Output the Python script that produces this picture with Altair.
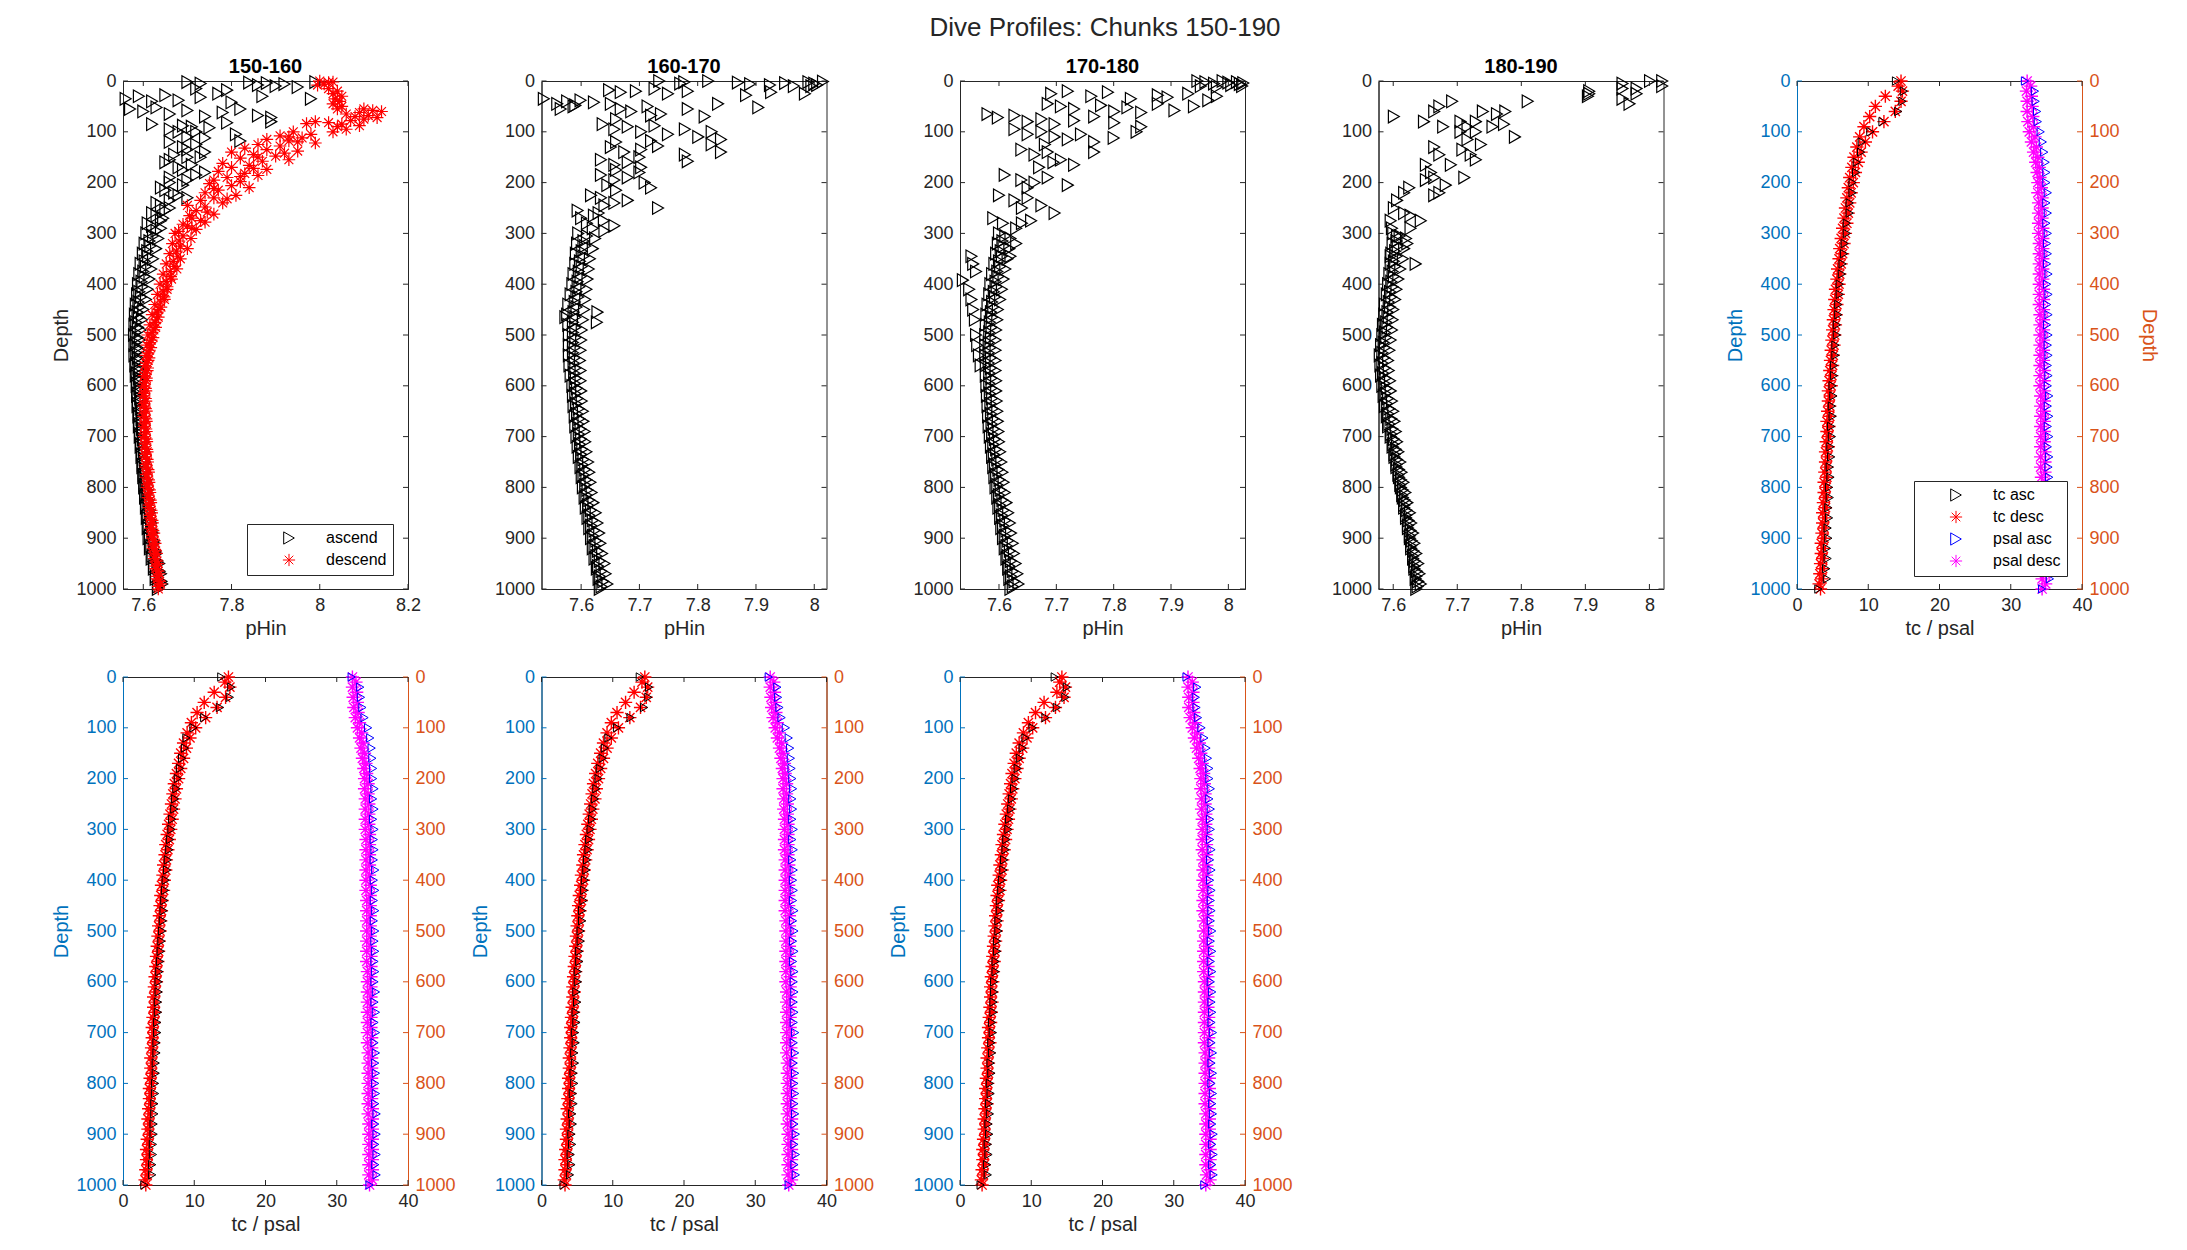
"""Dive profiles for chunks 150-190: pHin scatter per chunk and tc / psal profiles."""

import altair as alt
import pandas as pd

FONT = 'Liberation Sans'
AX = '#262626'
LEFT_AX = '#0072BD'
RIGHT_AX = '#D95319'
W, H = 285, 508
TICK = 5
ASTERISK = 'M0,-1L0,1M-1,0L1,0M-0.7,-0.7L0.7,0.7M-0.7,0.7L0.7,-0.7'

DEPTH_TICKS = [0, 100, 200, 300, 400, 500, 600, 700, 800, 900, 1000]
TC_TICKS = [0, 10, 20, 30, 40]
PH_TICKS_WIDE = [7.6, 7.8, 8.0, 8.2]
PH_TICKS = [7.6, 7.7, 7.8, 7.9, 8.0]

PH_SERIES = ['ascend', 'descend']
TC_SERIES = ['tc asc', 'tc desc', 'psal asc', 'psal desc']

# depth grids of the dense part of the pHin profiles (300-1000 m)
DEEP_DEPTH = [300, 310, 320, 330, 340, 350, 360, 370, 380, 390,
              400, 410, 420, 430, 440, 450, 460, 470, 480, 490,
              500, 510, 520, 530, 540, 550, 560, 570, 580, 590,
              600, 610, 620, 630, 640, 650, 660, 670, 680, 690,
              700, 710, 720, 730, 740, 750, 760, 770, 780, 790,
              800, 810, 820, 830, 840, 850, 860, 870, 880, 890,
              900, 910, 920, 930, 940, 950, 960, 970, 980, 990, 1000]
DEEP_DEPTH_B = [305, 315, 325, 335, 345, 355, 365, 375, 385, 395,
                405, 415, 425, 435, 445, 455, 465, 475, 485, 495,
                505, 515, 525, 535, 545, 555, 565, 575, 585, 595,
                605, 615, 625, 635, 645, 655, 665, 675, 685, 695,
                705, 715, 725, 735, 745, 755, 765, 775, 785, 795,
                805, 815, 825, 835, 845, 855, 865, 875, 885, 895,
                905, 915, 925, 935, 945, 955, 965, 975, 985, 995]

# ---- chunk 150-160 (pHin) ----
P1_ASC_DEPTH = [2, 5, 3, 8, 4, 10, 6, 12, 2, 15, 18,
                35, 30, 40, 28, 38, 32, 25, 42, 30, 35,
                55, 60, 52, 65, 58, 70, 62, 55, 68, 72,
                85, 95, 88, 100, 92, 82, 105, 80,
                120, 130, 125, 140, 118, 145,
                160, 170, 165, 180, 190, 195, 185,
                210, 220, 230, 240, 250,
                260, 270, 280, 290,
                150, 155, 175, 200, 205, 215, 225, 235, 245, 255,
                265, 275, 285, 295, 110, 135, 150, 100, 112, 90]
P1_ASC_PH = [7.70, 7.73, 7.84, 7.86, 7.88, 7.90, 7.92, 7.95, 7.99, 7.72, 7.79,
             7.56, 7.59, 7.62, 7.65, 7.68, 7.73, 7.77, 7.80, 7.87, 7.98,
             7.57, 7.60, 7.63, 7.66, 7.70, 7.74, 7.78, 7.82, 7.86, 7.89,
             7.62, 7.66, 7.69, 7.72, 7.75, 7.79, 7.81, 7.89,
             7.66, 7.69, 7.72, 7.74, 7.82, 7.67,
             7.65, 7.68, 7.71, 7.74, 7.66, 7.70, 7.72,
             7.64, 7.67, 7.70, 7.63, 7.66,
             7.62, 7.645, 7.61, 7.64,
             7.70, 7.66, 7.69, 7.66, 7.69, 7.65, 7.68, 7.66, 7.64, 7.65,
             7.63, 7.64, 7.62, 7.63, 7.70, 7.70, 7.73, 7.68, 7.74, 7.71]
P1_DEEP_ASC = [7.607, 7.634, 7.603, 7.629, 7.599, 7.622, 7.594, 7.618, 7.591, 7.614,
               7.588, 7.610, 7.586, 7.606, 7.583, 7.600, 7.581, 7.597, 7.580, 7.594,
               7.579, 7.592, 7.580, 7.592, 7.580, 7.592, 7.582, 7.592, 7.583, 7.593,
               7.585, 7.594, 7.586, 7.595, 7.587, 7.597, 7.589, 7.598, 7.590, 7.599,
               7.592, 7.601, 7.594, 7.602, 7.596, 7.604, 7.598, 7.605, 7.600, 7.607,
               7.602, 7.609, 7.604, 7.612, 7.606, 7.615, 7.608, 7.618, 7.610, 7.621,
               7.612, 7.625, 7.615, 7.630, 7.619, 7.636, 7.624, 7.640, 7.628, 7.643, 7.633]
P1_DEEP_ASC_B = [7.622, 7.614, 7.616, 7.609, 7.611, 7.603, 7.606, 7.600, 7.603, 7.596,
                 7.598, 7.591, 7.595, 7.589, 7.592, 7.587, 7.590, 7.584, 7.588, 7.583,
                 7.587, 7.583, 7.587, 7.584, 7.588, 7.584, 7.589, 7.585, 7.590, 7.586,
                 7.591, 7.587, 7.593, 7.588, 7.594, 7.590, 7.596, 7.591, 7.597, 7.593,
                 7.599, 7.595, 7.601, 7.597, 7.603, 7.599, 7.605, 7.601, 7.607, 7.603,
                 7.610, 7.605, 7.612, 7.607, 7.615, 7.610, 7.618, 7.612, 7.621, 7.615,
                 7.624, 7.618, 7.628, 7.621, 7.632, 7.625, 7.637, 7.629, 7.641, 7.634]
P1_DESC_DEPTH = [0, 3, 6, 2, 8,
                 15, 20, 25, 30, 35, 40, 45,
                 50, 55, 55, 58, 60, 62, 65, 68, 70, 72, 75, 78,
                 82, 85, 88, 90, 95, 100, 80, 84,
                 100, 105, 108, 112, 115, 118, 122, 125, 128,
                 132, 135, 138, 140, 145, 148, 152, 155, 158,
                 162, 166, 170, 174, 178, 182, 186, 190, 195, 198,
                 202, 206, 210, 215, 220, 225, 230, 235, 240,
                 248, 255, 262, 270, 278, 285, 292,
                 245, 258, 265, 275, 282, 290, 296, 232, 212, 188, 172, 150, 142, 120, 110]
P1_DESC_PH = [8.00, 8.02, 8.01, 8.03, 7.995,
              8.02, 8.04, 8.03, 8.05, 8.035, 8.045, 8.03,
              8.05, 8.04, 8.10, 8.12, 8.14, 8.09, 8.06, 8.11, 8.08, 8.13, 8.10, 8.07,
              8.02, 8.05, 8.09, 8.04, 8.06, 8.03, 7.99, 7.97,
              7.94, 7.98, 7.91, 7.96, 7.88, 7.93, 7.99, 7.86, 7.91,
              7.83, 7.88, 7.95, 7.80, 7.85, 7.90, 7.82, 7.93, 7.87,
              7.78, 7.84, 7.80, 7.88, 7.77, 7.83, 7.86, 7.79, 7.76, 7.82,
              7.75, 7.80, 7.84, 7.77, 7.74, 7.81, 7.76, 7.73, 7.78,
              7.74, 7.72, 7.76, 7.71, 7.74, 7.70, 7.72,
              7.70, 7.745, 7.705, 7.73, 7.69, 7.71, 7.68, 7.79, 7.76, 7.82, 7.85, 7.86, 7.92, 7.95, 7.93]
P1_DEEP_DESC = [7.672, 7.708, 7.666, 7.700, 7.660, 7.684, 7.652, 7.676, 7.645, 7.664,
                7.638, 7.654, 7.632, 7.648, 7.626, 7.635, 7.620, 7.630, 7.615, 7.624,
                7.610, 7.618, 7.608, 7.614, 7.606, 7.611, 7.603, 7.609, 7.602, 7.607,
                7.601, 7.606, 7.601, 7.606, 7.601, 7.607, 7.601, 7.607, 7.602, 7.607,
                7.602, 7.608, 7.603, 7.609, 7.605, 7.610, 7.606, 7.612, 7.607, 7.613,
                7.609, 7.615, 7.611, 7.617, 7.613, 7.619, 7.615, 7.621, 7.617, 7.624,
                7.620, 7.627, 7.622, 7.630, 7.625, 7.633, 7.628, 7.636, 7.631, 7.639, 7.634]
P1_DEEP_DESC_B = [7.690, 7.681, 7.684, 7.675, 7.678, 7.668, 7.670, 7.661, 7.662, 7.652,
                  7.654, 7.645, 7.647, 7.639, 7.640, 7.632, 7.634, 7.627, 7.628, 7.620,
                  7.622, 7.615, 7.617, 7.611, 7.613, 7.607, 7.610, 7.605, 7.607, 7.603,
                  7.605, 7.602, 7.605, 7.602, 7.605, 7.602, 7.606, 7.603, 7.606, 7.603,
                  7.607, 7.604, 7.608, 7.605, 7.609, 7.606, 7.611, 7.607, 7.612, 7.609,
                  7.614, 7.611, 7.616, 7.613, 7.618, 7.615, 7.620, 7.617, 7.622, 7.620,
                  7.625, 7.622, 7.628, 7.625, 7.631, 7.628, 7.634, 7.631, 7.637, 7.634]

# ---- chunk 160-170 (pHin) ----
P2_ASC_DEPTH = [0, 2, 5, 0, 3, 6, 8, 4, 10, 2, 5, 8, 1, 10,
                18, 22, 20, 15, 25, 20, 28, 22, 25,
                35, 45, 40, 50, 38, 42, 55, 48,
                45, 55, 60, 50, 65, 55, 70, 45, 52, 75, 68,
                85, 95, 90, 100, 88, 105, 95, 110, 100, 115, 120, 118,
                130, 140, 135, 128, 145, 125, 140,
                155, 165, 160, 170, 158, 175,
                185, 195, 190, 200, 210, 205,
                225, 230, 240, 235, 250, 245,
                255, 265, 275, 285, 270, 290,
                455, 475, 465, 150, 180, 215, 260, 280, 295]
P2_ASC_PH = [7.734, 7.777, 7.77, 7.818, 7.869, 7.89, 7.924, 7.95, 7.965, 7.99, 8.0, 8.005, 8.015, 7.995,
             7.648, 7.668, 7.694, 7.726, 7.749, 7.783, 7.883, 7.926, 7.984,
             7.536, 7.559, 7.576, 7.587, 7.599, 7.622, 7.565, 7.59,
             7.651, 7.668, 7.686, 7.714, 7.737, 7.783, 7.812, 7.835, 7.904, 7.66, 7.72,
             7.637, 7.657, 7.68, 7.703, 7.726, 7.749, 7.778, 7.801, 7.824, 7.84, 7.66, 7.72,
             7.651, 7.674, 7.703, 7.732, 7.778, 7.824, 7.84,
             7.634, 7.657, 7.68, 7.703, 7.783, 7.66,
             7.634, 7.657, 7.68, 7.709, 7.72, 7.645,
             7.617, 7.634, 7.657, 7.68, 7.732, 7.64,
             7.594, 7.622, 7.639, 7.657, 7.6, 7.62,
             7.628, 7.627, 7.573, 7.70, 7.70, 7.66, 7.63, 7.61, 7.64]
P2_DEEP_ASC = [7.595, 7.624, 7.593, 7.620, 7.591, 7.615, 7.590, 7.613, 7.587, 7.611,
               7.585, 7.609, 7.582, 7.607, 7.578, 7.605, 7.576, 7.603, 7.578, 7.601,
               7.579, 7.600, 7.579, 7.599, 7.579, 7.598, 7.580, 7.599, 7.582, 7.599,
               7.585, 7.600, 7.586, 7.601, 7.587, 7.603, 7.589, 7.604, 7.590, 7.606,
               7.592, 7.607, 7.594, 7.609, 7.596, 7.612, 7.599, 7.614, 7.601, 7.616,
               7.603, 7.618, 7.606, 7.621, 7.608, 7.625, 7.611, 7.628, 7.614, 7.631,
               7.617, 7.633, 7.620, 7.636, 7.623, 7.640, 7.627, 7.642, 7.630, 7.645, 7.632]
P2_DEEP_ASC_B = [7.610, 7.604, 7.607, 7.601, 7.604, 7.598, 7.601, 7.596, 7.599, 7.594,
                 7.597, 7.592, 7.595, 7.589, 7.592, 7.587, 7.590, 7.586, 7.590, 7.586,
                 7.590, 7.586, 7.589, 7.586, 7.589, 7.587, 7.590, 7.588, 7.591, 7.589,
                 7.593, 7.590, 7.594, 7.591, 7.596, 7.593, 7.597, 7.595, 7.599, 7.596,
                 7.600, 7.598, 7.602, 7.600, 7.604, 7.602, 7.607, 7.604, 7.609, 7.607,
                 7.611, 7.609, 7.614, 7.612, 7.617, 7.614, 7.620, 7.617, 7.623, 7.620,
                 7.626, 7.623, 7.629, 7.626, 7.632, 7.629, 7.635, 7.632, 7.638, 7.635]

# ---- chunk 170-180 (pHin) ----
P3_ASC_DEPTH = [0, 2, 5, 0, 3, 8, 2, 6, 10, 4, 12, 10,
                25, 20, 30, 22, 35, 28, 32, 25, 38, 30,
                45, 50, 55, 48, 60, 52, 62, 45, 58, 50,
                65, 72, 68, 80, 75, 85, 78, 70, 82, 90,
                95, 105, 100, 110, 115, 105, 120, 112, 100, 125,
                135, 145, 140, 155, 165, 140, 170, 160,
                185, 195, 200, 190, 210, 205,
                225, 235, 230, 245, 260, 250,
                270, 280, 290, 275,
                345, 360, 375, 392, 410, 430, 450, 470, 500, 520, 540, 560,
                320, 345, 280]
P3_ASC_PH = [7.946, 7.96, 7.975, 7.99, 8.0, 8.005, 8.015, 8.02, 8.024, 8.026, 7.98, 7.952,
             7.691, 7.72, 7.761, 7.79, 7.83, 7.877, 7.894, 7.93, 7.965, 7.98,
             7.685, 7.708, 7.731, 7.778, 7.801, 7.824, 7.848, 7.877, 7.906, 7.94,
             7.58, 7.598, 7.627, 7.65, 7.674, 7.697, 7.731, 7.766, 7.801, 7.848,
             7.627, 7.65, 7.674, 7.697, 7.72, 7.743, 7.766, 7.80, 7.84, 7.68,
             7.639, 7.662, 7.685, 7.708, 7.731, 7.766, 7.67, 7.695,
             7.61, 7.639, 7.662, 7.685, 7.65, 7.72,
             7.60, 7.627, 7.65, 7.674, 7.697, 7.64,
             7.59, 7.607, 7.63, 7.656,
             7.552, 7.555, 7.56, 7.537, 7.548, 7.552, 7.555, 7.558, 7.56, 7.562, 7.565, 7.568,
             7.63, 7.62, 7.64]
P3_DEEP_ASC = [7.600, 7.620, 7.598, 7.618, 7.595, 7.615, 7.592, 7.611, 7.588, 7.608,
               7.585, 7.605, 7.583, 7.602, 7.580, 7.598, 7.578, 7.597, 7.577, 7.595,
               7.576, 7.594, 7.576, 7.594, 7.576, 7.594, 7.577, 7.594, 7.577, 7.595,
               7.578, 7.595, 7.579, 7.596, 7.580, 7.597, 7.581, 7.598, 7.582, 7.599,
               7.584, 7.600, 7.586, 7.602, 7.588, 7.604, 7.590, 7.606, 7.592, 7.608,
               7.594, 7.610, 7.597, 7.613, 7.599, 7.616, 7.602, 7.619, 7.604, 7.621,
               7.607, 7.624, 7.610, 7.626, 7.613, 7.629, 7.616, 7.632, 7.618, 7.634, 7.620]
P3_DEEP_ASC_B = [7.611, 7.606, 7.608, 7.603, 7.605, 7.600, 7.602, 7.597, 7.599, 7.594,
                 7.596, 7.591, 7.593, 7.588, 7.590, 7.586, 7.588, 7.584, 7.587, 7.583,
                 7.586, 7.582, 7.585, 7.582, 7.586, 7.582, 7.586, 7.583, 7.587, 7.583,
                 7.587, 7.584, 7.588, 7.585, 7.589, 7.586, 7.590, 7.587, 7.591, 7.588,
                 7.593, 7.590, 7.595, 7.591, 7.597, 7.593, 7.599, 7.595, 7.601, 7.597,
                 7.603, 7.600, 7.606, 7.602, 7.608, 7.605, 7.611, 7.607, 7.613, 7.610,
                 7.616, 7.613, 7.619, 7.615, 7.621, 7.618, 7.624, 7.621, 7.627, 7.624]

# ---- chunk 180-190 (pHin) ----
P4_ASC_DEPTH = [0, 0, 10, 5, 15, 15, 35, 25, 45, 20,
                25, 30, 40, 40, 50, 60, 70, 80, 60, 65,
                60, 90, 80, 90, 80, 90, 85, 110, 100, 115,
                100, 125, 130, 145, 135, 145, 155, 165, 165, 180,
                190, 195, 205, 190, 220, 225, 210, 220, 235, 250,
                260, 265, 275, 275, 290, 290, 305, 320, 360, 345]
P4_ASC_PH = [8.001, 8.02, 8.02, 7.958, 7.958, 7.98, 7.958, 7.98, 7.969, 7.906,
             7.906, 7.904, 7.81, 7.692, 7.672, 7.664, 7.601, 7.648, 7.74, 7.762,
             7.775, 7.678, 7.705, 7.716, 7.729, 7.755, 7.773, 7.79, 7.705, 7.716,
             7.729, 7.737, 7.664, 7.672, 7.708, 7.721, 7.729, 7.69, 7.651, 7.659,
             7.664, 7.651, 7.682, 7.711, 7.672, 7.664, 7.625, 7.617, 7.606, 7.601,
             7.617, 7.627, 7.643, 7.596, 7.598, 7.627, 7.606, 7.622, 7.635, 7.596]
P4_DEEP_ASC = [7.600, 7.620, 7.599, 7.617, 7.597, 7.615, 7.596, 7.611, 7.594, 7.608,
               7.592, 7.605, 7.590, 7.603, 7.587, 7.600, 7.586, 7.599, 7.584, 7.598,
               7.583, 7.596, 7.581, 7.594, 7.579, 7.592, 7.580, 7.593, 7.581, 7.595,
               7.583, 7.596, 7.585, 7.598, 7.587, 7.600, 7.590, 7.602, 7.592, 7.604,
               7.596, 7.606, 7.599, 7.608, 7.602, 7.611, 7.605, 7.613, 7.609, 7.616,
               7.612, 7.619, 7.615, 7.622, 7.617, 7.626, 7.620, 7.628, 7.623, 7.631,
               7.626, 7.633, 7.628, 7.636, 7.631, 7.639, 7.633, 7.641, 7.635, 7.643, 7.636]
P4_DEEP_ASC_B = [7.610, 7.605, 7.607, 7.603, 7.605, 7.601, 7.603, 7.599, 7.601, 7.597,
                 7.599, 7.595, 7.597, 7.593, 7.595, 7.591, 7.593, 7.589, 7.591, 7.587,
                 7.589, 7.585, 7.587, 7.583, 7.586, 7.583, 7.587, 7.584, 7.588, 7.586,
                 7.590, 7.588, 7.592, 7.590, 7.594, 7.592, 7.597, 7.594, 7.599, 7.597,
                 7.601, 7.600, 7.604, 7.602, 7.606, 7.605, 7.609, 7.608, 7.612, 7.611,
                 7.615, 7.614, 7.618, 7.617, 7.621, 7.620, 7.624, 7.623, 7.627, 7.626,
                 7.629, 7.628, 7.632, 7.631, 7.634, 7.633, 7.637, 7.636, 7.639, 7.638]

# ---- tc / psal profiles: ascents every 20 m, descents every 10 m ----
ASC_DEPTH = [0, 20, 40, 60, 80, 100, 120, 140, 160, 180,
             200, 220, 240, 260, 280, 300, 320, 340, 360, 380,
             400, 420, 440, 460, 480, 500, 520, 540, 560, 580,
             600, 620, 640, 660, 680, 700, 720, 740, 760, 780,
             800, 820, 840, 860, 880, 900, 920, 940, 960, 980, 1000]
DESC_DEPTH = [0, 10, 20, 30, 40, 50, 60, 70, 80, 90,
              100, 110, 120, 130, 140, 150, 160, 170, 180, 190,
              200, 210, 220, 230, 240, 250, 260, 270, 280, 290,
              300, 310, 320, 330, 340, 350, 360, 370, 380, 390,
              400, 410, 420, 430, 440, 450, 460, 470, 480, 490,
              500, 510, 520, 530, 540, 550, 560, 570, 580, 590,
              600, 610, 620, 630, 640, 650, 660, 670, 680, 690,
              700, 710, 720, 730, 740, 750, 760, 770, 780, 790,
              800, 810, 820, 830, 840, 850, 860, 870, 880, 890,
              900, 910, 920, 930, 940, 950, 960, 970, 980, 990, 1000]

P5_TC_ASC = [13.9, 15.0, 14.8, 14.2, 12.0, 10.3, 9.1, 9.0, 8.4, 8.3,
             7.8, 7.8, 7.4, 7.4, 7.0, 7.0, 6.7, 6.6, 6.4, 6.3,
             6.0, 6.0, 5.8, 5.8, 5.6, 5.6, 5.4, 5.4, 5.2, 5.2,
             5.0, 5.1, 4.9, 5.0, 4.8, 4.9, 4.7, 4.8, 4.6, 4.7,
             4.5, 4.6, 4.4, 4.5, 4.3, 4.4, 4.2, 4.3, 4.1, 4.2, 3.0]
P5_TC_DESC = [14.6, 14.2, 14.8, 12.4, 14.6, 11.0, 13.8, 10.2, 12.2, 9.4,
              10.6, 8.8, 9.6, 8.4, 9.0, 8.0, 8.6, 7.7, 8.2, 7.4,
              7.9, 7.2, 7.6, 7.0, 7.4, 6.8, 7.2, 6.6, 7.0, 6.4,
              6.8, 6.2, 6.6, 6.0, 6.4, 5.9, 6.2, 5.7, 6.0, 5.6,
              5.9, 5.4, 5.8, 5.3, 5.6, 5.2, 5.5, 5.1, 5.4, 5.0,
              5.3, 4.9, 5.2, 4.8, 5.1, 4.7, 5.0, 4.6, 4.9, 4.5,
              4.8, 4.4, 4.7, 4.4, 4.6, 4.3, 4.6, 4.2, 4.5, 4.2,
              4.4, 4.1, 4.4, 4.0, 4.3, 4.0, 4.2, 3.9, 4.2, 3.8,
              4.1, 3.8, 4.0, 3.7, 4.0, 3.6, 3.9, 3.6, 3.8, 3.5,
              3.8, 3.4, 3.7, 3.4, 3.6, 3.3, 3.6, 3.2, 3.5, 3.1, 3.3]
P5_PSAL_ASC = [32.0, 33.4, 33.5, 33.7, 33.8, 34.2, 34.5, 34.7, 34.9, 35.0,
               35.0, 35.2, 35.0, 35.2, 35.0, 35.2, 35.1, 35.2, 35.1, 35.3,
               35.1, 35.3, 35.1, 35.3, 35.1, 35.3, 35.2, 35.3, 35.2, 35.3,
               35.2, 35.4, 35.2, 35.4, 35.2, 35.4, 35.2, 35.4, 35.3, 35.4,
               35.3, 35.4, 35.3, 35.5, 35.3, 35.5, 35.3, 35.5, 35.3, 35.5, 34.4]
P5_PSAL_DESC = [32.3, 32.8, 32.2, 32.9, 32.3, 33.0, 32.3, 33.1, 32.4, 33.2,
                32.6, 33.4, 32.9, 33.6, 33.2, 33.8, 33.5, 34.0, 33.7, 34.1,
                33.8, 34.3, 33.8, 34.4, 33.9, 34.4, 33.9, 34.4, 33.9, 34.5,
                33.9, 34.5, 34.0, 34.5, 34.0, 34.5, 34.0, 34.5, 34.0, 34.5,
                34.0, 34.6, 34.0, 34.6, 34.0, 34.6, 34.1, 34.6, 34.1, 34.6,
                34.1, 34.6, 34.1, 34.6, 34.1, 34.6, 34.1, 34.7, 34.1, 34.7,
                34.1, 34.7, 34.2, 34.7, 34.2, 34.7, 34.2, 34.7, 34.2, 34.7,
                34.2, 34.7, 34.2, 34.8, 34.2, 34.8, 34.2, 34.8, 34.3, 34.8,
                34.3, 34.8, 34.3, 34.8, 34.3, 34.8, 34.3, 34.8, 34.3, 34.9,
                34.4, 34.9, 34.4, 34.9, 34.4, 34.9, 34.4, 34.9, 34.4, 34.9, 34.4]

P6_TC_ASC = [13.8, 15.2, 15.0, 13.6, 11.4, 9.9, 8.9, 8.7, 8.3, 8.0,
             7.7, 7.5, 7.3, 7.2, 6.9, 6.8, 6.6, 6.5, 6.3, 6.2,
             6.0, 5.9, 5.8, 5.7, 5.6, 5.5, 5.4, 5.3, 5.2, 5.1,
             5.0, 5.0, 4.9, 4.9, 4.8, 4.8, 4.7, 4.7, 4.6, 4.6,
             4.5, 4.5, 4.4, 4.4, 4.3, 4.3, 4.2, 4.2, 4.1, 4.1, 3.0]
P6_TC_DESC = [14.8, 14.3, 15.0, 12.8, 14.4, 11.4, 13.2, 10.4, 11.6, 9.6,
              10.2, 9.0, 9.4, 8.5, 8.9, 8.1, 8.5, 7.8, 8.1, 7.5,
              7.8, 7.2, 7.5, 7.0, 7.3, 6.8, 7.1, 6.6, 6.9, 6.4,
              6.7, 6.2, 6.5, 6.0, 6.3, 5.9, 6.1, 5.7, 6.0, 5.6,
              5.8, 5.4, 5.7, 5.3, 5.5, 5.2, 5.4, 5.1, 5.3, 5.0,
              5.2, 4.9, 5.1, 4.8, 5.0, 4.7, 4.9, 4.6, 4.8, 4.5,
              4.7, 4.4, 4.6, 4.3, 4.5, 4.3, 4.5, 4.2, 4.4, 4.1,
              4.3, 4.1, 4.3, 4.0, 4.2, 3.9, 4.1, 3.9, 4.1, 3.8,
              4.0, 3.7, 3.9, 3.7, 3.9, 3.6, 3.8, 3.5, 3.7, 3.5,
              3.7, 3.4, 3.6, 3.3, 3.5, 3.3, 3.5, 3.2, 3.4, 3.1, 3.2]
P6_PSAL_ASC = [32.1, 33.3, 33.4, 33.6, 33.9, 34.4, 34.7, 34.9, 35.0, 35.1,
               35.1, 35.3, 35.1, 35.3, 35.1, 35.3, 35.2, 35.3, 35.2, 35.4,
               35.2, 35.4, 35.2, 35.4, 35.2, 35.4, 35.3, 35.4, 35.3, 35.4,
               35.3, 35.5, 35.3, 35.5, 35.3, 35.5, 35.3, 35.5, 35.4, 35.5,
               35.4, 35.5, 35.4, 35.6, 35.4, 35.6, 35.4, 35.6, 35.4, 35.6, 34.6]
P6_PSAL_DESC = [32.2, 32.7, 32.2, 32.8, 32.3, 32.9, 32.4, 33.0, 32.6, 33.2,
                32.9, 33.5, 33.2, 33.7, 33.4, 33.9, 33.6, 34.1, 33.8, 34.2,
                33.9, 34.4, 33.9, 34.4, 34.0, 34.5, 34.0, 34.5, 34.0, 34.5,
                34.0, 34.6, 34.1, 34.6, 34.1, 34.6, 34.1, 34.6, 34.1, 34.6,
                34.1, 34.7, 34.1, 34.7, 34.2, 34.7, 34.2, 34.7, 34.2, 34.7,
                34.2, 34.7, 34.2, 34.7, 34.2, 34.8, 34.2, 34.8, 34.3, 34.8,
                34.3, 34.8, 34.3, 34.8, 34.3, 34.8, 34.3, 34.8, 34.3, 34.8,
                34.3, 34.9, 34.3, 34.9, 34.4, 34.9, 34.4, 34.9, 34.4, 34.9,
                34.4, 34.9, 34.4, 34.9, 34.4, 35.0, 34.4, 35.0, 34.5, 35.0,
                34.5, 35.0, 34.5, 35.0, 34.5, 35.0, 34.5, 35.0, 34.5, 35.0, 34.6]

P7_TC_ASC = [13.8, 15.1, 15.0, 14.4, 12.5, 10.6, 9.4, 8.9, 8.6, 8.2,
             8.0, 7.7, 7.5, 7.2, 7.1, 6.9, 6.7, 6.6, 6.4, 6.3,
             6.1, 6.0, 5.9, 5.7, 5.7, 5.5, 5.5, 5.3, 5.3, 5.1,
             5.1, 4.9, 5.0, 4.8, 4.9, 4.7, 4.8, 4.6, 4.7, 4.5,
             4.6, 4.4, 4.5, 4.3, 4.4, 4.2, 4.3, 4.1, 4.2, 4.0, 3.1]
P7_TC_DESC = [14.5, 14.1, 14.9, 13.0, 14.7, 11.8, 13.9, 10.6, 12.4, 9.8,
              10.8, 9.2, 9.8, 8.7, 9.2, 8.3, 8.7, 7.9, 8.3, 7.6,
              8.0, 7.3, 7.7, 7.1, 7.5, 6.9, 7.2, 6.7, 7.0, 6.5,
              6.8, 6.3, 6.6, 6.1, 6.4, 5.9, 6.2, 5.8, 6.0, 5.6,
              5.9, 5.5, 5.7, 5.3, 5.6, 5.2, 5.4, 5.1, 5.3, 5.0,
              5.2, 4.9, 5.1, 4.8, 5.0, 4.7, 4.9, 4.6, 4.8, 4.5,
              4.7, 4.4, 4.6, 4.4, 4.6, 4.3, 4.5, 4.2, 4.4, 4.1,
              4.3, 4.1, 4.3, 4.0, 4.2, 3.9, 4.2, 3.9, 4.1, 3.8,
              4.0, 3.8, 4.0, 3.7, 3.9, 3.6, 3.9, 3.6, 3.8, 3.5,
              3.8, 3.5, 3.7, 3.4, 3.6, 3.3, 3.6, 3.3, 3.5, 3.2, 3.3]
P7_PSAL_ASC = [31.9, 33.1, 33.2, 33.4, 33.7, 34.3, 34.7, 34.9, 35.0, 35.1,
               35.2, 35.3, 35.2, 35.3, 35.2, 35.4, 35.2, 35.4, 35.2, 35.4,
               35.3, 35.4, 35.3, 35.5, 35.3, 35.5, 35.3, 35.5, 35.3, 35.5,
               35.4, 35.5, 35.4, 35.5, 35.4, 35.6, 35.4, 35.6, 35.4, 35.6,
               35.5, 35.6, 35.5, 35.6, 35.5, 35.7, 35.5, 35.7, 35.5, 35.7, 34.7]
P7_PSAL_DESC = [32.1, 32.6, 32.1, 32.7, 32.2, 32.8, 32.3, 32.9, 32.5, 33.1,
                32.8, 33.4, 33.1, 33.7, 33.4, 33.9, 33.6, 34.1, 33.8, 34.2,
                33.9, 34.4, 33.9, 34.4, 34.0, 34.5, 34.0, 34.5, 34.1, 34.6,
                34.1, 34.6, 34.1, 34.6, 34.1, 34.6, 34.2, 34.7, 34.2, 34.7,
                34.2, 34.7, 34.2, 34.7, 34.2, 34.7, 34.2, 34.8, 34.3, 34.8,
                34.3, 34.8, 34.3, 34.8, 34.3, 34.8, 34.3, 34.8, 34.3, 34.9,
                34.3, 34.9, 34.4, 34.9, 34.4, 34.9, 34.4, 34.9, 34.4, 34.9,
                34.4, 34.9, 34.4, 35.0, 34.4, 35.0, 34.5, 35.0, 34.5, 35.0,
                34.5, 35.0, 34.5, 35.0, 34.5, 35.0, 34.5, 35.1, 34.5, 35.1,
                34.6, 35.1, 34.6, 35.1, 34.6, 35.1, 34.6, 35.1, 34.6, 35.1, 34.7]

P8_TC_ASC = [13.3, 15.0, 14.8, 13.6, 12.0, 10.2, 9.2, 8.8, 8.4, 8.1,
             7.8, 7.6, 7.3, 7.2, 6.9, 6.8, 6.5, 6.4, 6.2, 6.1,
             5.9, 5.8, 5.6, 5.6, 5.4, 5.4, 5.2, 5.2, 5.0, 5.0,
             4.8, 4.8, 4.7, 4.7, 4.5, 4.6, 4.4, 4.5, 4.3, 4.4,
             4.2, 4.3, 4.1, 4.2, 4.0, 4.1, 3.9, 4.0, 3.8, 3.9, 2.9]
P8_TC_DESC = [14.3, 14.0, 14.8, 13.6, 14.6, 11.8, 13.4, 10.6, 12.0, 9.6,
              10.2, 8.9, 9.4, 8.3, 8.8, 7.9, 8.3, 7.6, 8.0, 7.3,
              7.7, 7.1, 7.4, 6.9, 7.2, 6.7, 7.0, 6.5, 6.8, 6.3,
              6.6, 6.1, 6.4, 5.9, 6.2, 5.8, 6.0, 5.6, 5.9, 5.5,
              5.7, 5.3, 5.6, 5.2, 5.4, 5.1, 5.3, 5.0, 5.2, 4.9,
              5.1, 4.8, 5.0, 4.7, 4.9, 4.6, 4.8, 4.5, 4.7, 4.4,
              4.6, 4.3, 4.5, 4.3, 4.5, 4.2, 4.4, 4.1, 4.3, 4.0,
              4.2, 4.0, 4.2, 3.9, 4.1, 3.8, 4.0, 3.8, 4.0, 3.7,
              3.9, 3.6, 3.8, 3.6, 3.8, 3.5, 3.7, 3.4, 3.6, 3.4,
              3.6, 3.3, 3.5, 3.2, 3.4, 3.2, 3.4, 3.1, 3.3, 3.0, 3.1]
P8_PSAL_ASC = [31.8, 33.3, 33.1, 33.2, 33.4, 33.9, 34.3, 34.6, 34.8, 35.0,
               35.0, 35.2, 35.0, 35.2, 35.1, 35.2, 35.1, 35.3, 35.1, 35.3,
               35.1, 35.3, 35.2, 35.3, 35.2, 35.4, 35.2, 35.4, 35.2, 35.4,
               35.2, 35.4, 35.3, 35.4, 35.3, 35.5, 35.3, 35.5, 35.3, 35.5,
               35.3, 35.5, 35.4, 35.5, 35.4, 35.6, 35.4, 35.6, 35.4, 35.6, 34.3]
P8_PSAL_DESC = [32.0, 32.6, 32.0, 32.7, 32.1, 32.7, 32.1, 32.8, 32.3, 33.0,
                32.6, 33.3, 32.9, 33.6, 33.2, 33.8, 33.5, 34.0, 33.7, 34.2,
                33.8, 34.3, 33.8, 34.4, 33.9, 34.4, 33.9, 34.5, 34.0, 34.5,
                34.0, 34.5, 34.0, 34.6, 34.0, 34.6, 34.1, 34.6, 34.1, 34.6,
                34.1, 34.6, 34.1, 34.7, 34.1, 34.7, 34.1, 34.7, 34.2, 34.7,
                34.2, 34.7, 34.2, 34.7, 34.2, 34.8, 34.2, 34.8, 34.2, 34.8,
                34.3, 34.8, 34.3, 34.8, 34.3, 34.8, 34.3, 34.9, 34.3, 34.9,
                34.3, 34.9, 34.3, 34.9, 34.4, 34.9, 34.4, 34.9, 34.4, 35.0,
                34.4, 35.0, 34.4, 35.0, 34.4, 35.0, 34.5, 35.0, 34.5, 35.0,
                34.5, 35.1, 34.5, 35.1, 34.5, 35.1, 34.5, 35.1, 34.6, 35.1, 34.5]


def series_frame(parts):
    """Stacks (depths, values, name) triples into one long table."""
    return pd.concat([pd.DataFrame({'depth': d, 'value': v, 'series': name}) for d, v, name in parts],
                     ignore_index=True)


def depth_y(title, color=AX, orient='left', title_padding=4):
    return alt.Y('depth:Q', scale=alt.Scale(domain=[0, 1000], reverse=True, nice=False, zero=False),
                 axis=alt.Axis(values=DEPTH_TICKS, format='d', title=title, orient=orient,
                               titlePadding=title_padding,
                               labelColor=color, titleColor=color, domainColor=color))


def value_x(domain, ticks, title, fmt):
    return alt.X('value:Q', scale=alt.Scale(domain=domain, nice=False, zero=False),
                 axis=alt.Axis(values=ticks, format=fmt, title=title))


def inner_ticks(x_enc, y_enc, x_ticks, left_color=AX, right_color=AX):
    """Short inward tick marks on all four sides, placed through the panel scales."""
    yt = pd.DataFrame({'depth': DEPTH_TICKS})
    xt = pd.DataFrame({'value': x_ticks})
    return [
        alt.Chart(yt).mark_rule(color=left_color).encode(y=y_enc, x=alt.value(0), x2=alt.value(TICK)),
        alt.Chart(yt).mark_rule(color=right_color).encode(y=y_enc, x=alt.value(W - TICK), x2=alt.value(W)),
        alt.Chart(xt).mark_rule(color=AX).encode(x=x_enc, y=alt.value(H - TICK), y2=alt.value(H)),
        alt.Chart(xt).mark_rule(color=AX).encode(x=x_enc, y=alt.value(0), y2=alt.value(TICK)),
    ]


def make_legend(x, y):
    return alt.Legend(orient='none', legendX=x, legendY=y, direction='vertical',
                      strokeColor=AX, fillColor='white', padding=6, cornerRadius=0,
                      labelFont=FONT, labelFontSize=16, labelColor='black',
                      symbolSize=150, symbolStrokeWidth=1, symbolOffset=28, labelOffset=29,
                      rowPadding=4)


def ph_panel(title, parts, domain, ticks, depth_title, legend):
    x_enc = value_x(domain, ticks, 'pHin', '~g')
    y_enc = depth_y(depth_title)
    points = alt.Chart(series_frame(parts)).mark_point(filled=False, size=160, strokeWidth=1.2, opacity=1).encode(
        x=x_enc,
        y=y_enc,
        color=alt.Color('series:N', title=None, legend=legend,
                        scale=alt.Scale(domain=PH_SERIES, range=['#000000', '#FF0000'])),
        shape=alt.Shape('series:N', title=None, legend=legend,
                        scale=alt.Scale(domain=PH_SERIES, range=['triangle-right', ASTERISK])),
    )
    return alt.layer(points, *inner_ticks(x_enc, y_enc, ticks)).properties(
        width=W, height=H,
        title=alt.TitleParams(title, font=FONT, fontSize=20, fontWeight='bold', color='black', offset=-5),
    )


def tc_panel(tc_asc, tc_desc, psal_asc, psal_desc, right_title, legend):
    x_enc = value_x([0, 40], TC_TICKS, 'tc / psal', 'd')
    y_left = depth_y('Depth', LEFT_AX)
    y_right = depth_y(right_title, RIGHT_AX, 'right', 9)
    color = alt.Color('series:N', title=None, legend=legend,
                      scale=alt.Scale(domain=TC_SERIES, range=['#000000', '#FF0000', '#0000FF', '#FF00FF']))
    shape = alt.Shape('series:N', title=None, legend=legend,
                      scale=alt.Scale(domain=TC_SERIES,
                                      range=['triangle-right', ASTERISK, 'triangle-right', ASTERISK]))

    def profile(depths, values, name, y_enc, size, stroke_width):
        return alt.Chart(series_frame([(depths, values, name)])).mark_point(
            filled=False, size=size, strokeWidth=stroke_width, opacity=1,
        ).encode(x=x_enc, y=y_enc, color=color, shape=shape)

    # descents first so the ascent triangles stay visible along the band edge
    left = alt.layer(
        profile(DESC_DEPTH, tc_desc, 'tc desc', y_left, 175, 1.4),
        profile(ASC_DEPTH, tc_asc, 'tc asc', y_left, 70, 1),
        *inner_ticks(x_enc, y_left, TC_TICKS, LEFT_AX, RIGHT_AX),
    )
    right = alt.layer(
        profile(DESC_DEPTH, psal_desc, 'psal desc', y_right, 175, 1.4),
        profile(ASC_DEPTH, psal_asc, 'psal asc', y_right, 70, 1),
    )
    return alt.layer(left, right).resolve_scale(y='independent').properties(width=W, height=H)


panels = [
    ph_panel('150-160',
             [(P1_ASC_DEPTH, P1_ASC_PH, 'ascend'), (DEEP_DEPTH, P1_DEEP_ASC, 'ascend'),
              (DEEP_DEPTH_B, P1_DEEP_ASC_B, 'ascend'),
              (P1_DESC_DEPTH, P1_DESC_PH, 'descend'), (DEEP_DEPTH, P1_DEEP_DESC, 'descend'),
              (DEEP_DEPTH_B, P1_DEEP_DESC_B, 'descend')],
             [7.554, 8.2], PH_TICKS_WIDE, 'Depth', make_legend(124, 443)),
    ph_panel('160-170', [(P2_ASC_DEPTH, P2_ASC_PH, 'ascend'), (DEEP_DEPTH, P2_DEEP_ASC, 'ascend'),
                         (DEEP_DEPTH_B, P2_DEEP_ASC_B, 'ascend')],
             [7.532, 8.021], PH_TICKS, '', None),
    ph_panel('170-180', [(P3_ASC_DEPTH, P3_ASC_PH, 'ascend'), (DEEP_DEPTH, P3_DEEP_ASC, 'ascend'),
                         (DEEP_DEPTH_B, P3_DEEP_ASC_B, 'ascend')],
             [7.532, 8.029], PH_TICKS, '', None),
    ph_panel('180-190', [(P4_ASC_DEPTH, P4_ASC_PH, 'ascend'), (DEEP_DEPTH, P4_DEEP_ASC, 'ascend'),
                         (DEEP_DEPTH_B, P4_DEEP_ASC_B, 'ascend')],
             [7.577, 8.022], PH_TICKS, '', None),
    tc_panel(P5_TC_ASC, P5_TC_DESC, P5_PSAL_ASC, P5_PSAL_DESC, 'Depth', make_legend(117, 400)),
    tc_panel(P6_TC_ASC, P6_TC_DESC, P6_PSAL_ASC, P6_PSAL_DESC, '', None),
    tc_panel(P7_TC_ASC, P7_TC_DESC, P7_PSAL_ASC, P7_PSAL_DESC, '', None),
    tc_panel(P8_TC_ASC, P8_TC_DESC, P8_PSAL_ASC, P8_PSAL_DESC, '', None),
]

chart = alt.concat(
    *panels, columns=5, spacing={'row': 88, 'column': 133.5}, bounds='flush',
).resolve_scale(
    x='independent', y='independent', color='independent', shape='independent',
).properties(
    title=alt.TitleParams('Dive Profiles: Chunks 150-190', font=FONT, fontSize=26, fontWeight='normal',
                          color=AX, anchor='middle', offset=16),
    padding={'left': 43, 'top': 6, 'right': 5, 'bottom': 5},
).configure_view(
    stroke=AX, strokeWidth=1,
).configure_axis(
    labelFont=FONT, labelFontSize=18, labelColor=AX, labelPadding=7, labelFlush=False,
    titleFont=FONT, titleFontSize=20, titleFontWeight='normal', titleColor=AX, titlePadding=4,
    grid=False, ticks=False, domainColor=AX, domainWidth=1,
)

chart.save('out.html', embed_options={'renderer': 'svg', 'actions': False})
